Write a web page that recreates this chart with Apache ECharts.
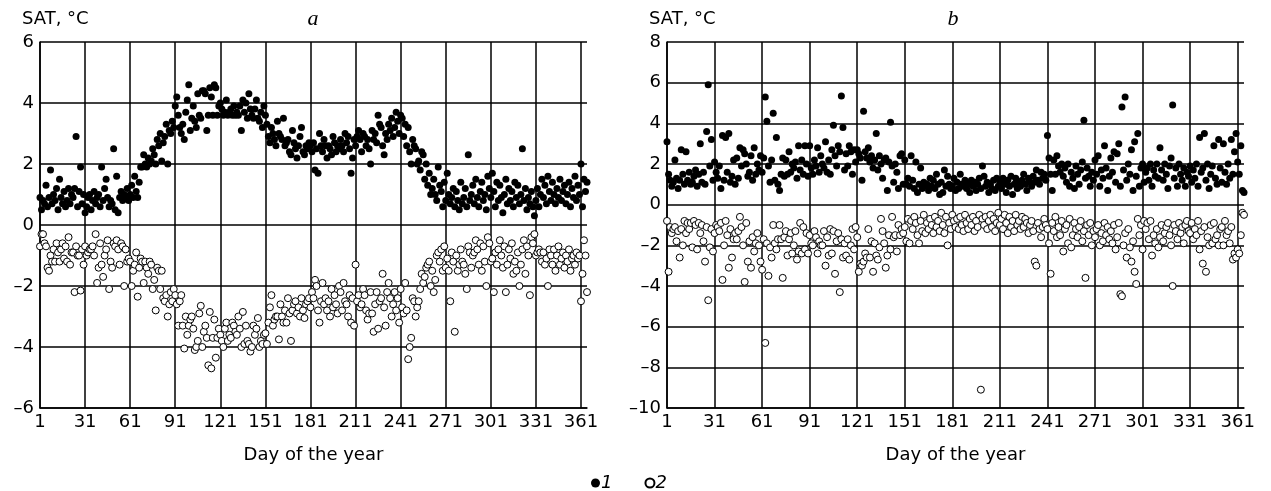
<!DOCTYPE html>
<html>
<head>
<meta charset="utf-8">
<script src="https://cdn.jsdelivr.net/npm/echarts@6/dist/echarts.min.js"></script>
<style>html,body{margin:0;padding:0;background:#fff}#c{width:1271px;height:491px}</style>
</head>
<body>
<div id="c"></div>
<script>
// Panel a — series 1 (filled) and 2 (open), one value per day (day 1..365)
const a1 = [
0.9,0.5,0.8,0.7,1.3,0.6,0.9,1.8,0.7,1.0,
0.8,1.2,0.5,1.5,0.9,0.7,1.1,0.6,0.8,1.2,
0.7,1.0,0.9,1.2,2.9,0.6,1.1,1.9,0.7,1.0,
0.4,0.6,0.9,1.0,0.5,0.8,1.1,0.7,0.9,1.0,
0.6,1.9,0.8,1.2,1.5,0.9,0.6,0.8,0.7,2.5,
0.5,1.6,0.4,0.9,1.1,0.8,1.0,0.9,1.2,0.8,
1.0,1.3,0.9,1.6,1.1,0.9,1.4,1.9,1.9,2.3,
2.0,1.9,2.2,2.0,2.1,2.5,2.3,2.0,2.8,2.6,
3.0,2.1,2.7,2.9,3.3,2.0,3.1,3.0,3.4,3.2,
3.9,4.2,3.6,3.2,3.0,3.3,2.8,3.7,4.1,4.6,
3.1,3.5,3.9,3.4,3.2,4.3,3.6,3.5,4.4,4.4,
4.3,3.1,3.6,4.5,4.2,3.6,4.6,4.5,3.6,3.9,
4.0,3.8,3.6,3.7,4.1,3.6,3.7,3.8,3.6,3.9,
3.6,3.7,3.6,3.9,3.1,4.1,3.7,4.0,3.5,4.3,
3.8,3.6,3.5,3.8,4.1,3.5,3.4,3.7,3.2,3.9,
3.6,3.3,2.9,2.7,3.2,3.0,2.8,2.6,3.4,3.0,
2.9,2.8,3.5,2.6,2.7,2.8,2.4,2.3,3.1,2.7,
2.5,2.2,2.6,2.9,3.2,2.4,2.3,2.6,2.5,2.7,
2.6,2.4,2.7,1.8,2.5,1.7,3.0,2.6,2.4,2.8,
2.6,2.2,2.6,2.5,2.3,2.9,2.7,2.4,2.6,2.5,
2.8,2.6,2.4,3.0,2.7,2.9,2.5,1.7,2.2,2.8,
2.6,2.9,3.1,2.8,2.4,3.0,2.9,2.6,2.8,2.5,
2.0,3.1,2.8,3.0,2.7,3.6,3.3,3.2,2.6,2.3,
3.0,2.8,3.3,3.1,3.5,2.9,3.2,3.7,3.4,3.0,
3.6,3.5,2.9,3.3,2.6,3.2,2.4,2.0,2.8,2.6,
2.5,2.0,2.1,1.8,2.4,2.3,1.5,2.0,1.3,1.7,
1.0,1.2,1.5,1.0,0.8,1.9,1.3,1.1,0.6,1.4,
0.8,1.7,1.0,0.7,0.9,1.2,0.6,1.1,0.8,0.5,
1.4,0.7,0.9,1.2,0.6,2.3,0.8,1.0,1.3,0.7,
1.5,0.9,0.6,1.1,1.4,0.8,1.0,0.5,1.6,1.2,
0.9,1.7,1.1,0.6,1.4,0.8,1.3,0.9,0.4,1.0,
1.5,0.7,1.2,0.8,1.1,0.6,1.4,0.9,1.3,0.7,
1.0,2.5,0.8,1.2,0.5,0.9,0.7,1.1,0.6,0.3,
0.8,1.2,0.6,1.0,1.5,0.9,1.3,0.7,1.6,1.1,
0.8,1.4,1.0,0.7,1.2,0.9,1.5,0.8,1.1,1.3,
0.7,1.0,1.4,0.6,1.2,0.9,1.6,0.8,1.3,1.0,
2.0,0.6,1.5,1.1,1.4
];
const a2 = [
-0.7,-0.3,-0.3,-0.6,-0.7,-1.4,-1.5,-1.0,-1.2,-0.8,
-1.2,-0.6,-0.9,-1.2,-0.8,-0.6,-1.1,-0.7,-1.2,-0.4,
-1.3,-0.9,-0.9,-2.2,-0.7,-1.0,-1.0,-2.15,-0.8,-1.3,
-0.7,-1.0,-0.9,-0.8,-0.8,-0.7,-1.0,-0.3,-1.9,-1.4,
-0.6,-1.3,-1.7,-1.0,-0.8,-0.5,-2.1,-1.2,-1.4,-0.6,
-0.7,-0.5,-0.8,-1.3,-0.6,-0.7,-2.0,-0.8,-1.2,-1.1,
-1.2,-2.0,-1.5,-1.3,-0.9,-2.35,-1.4,-1.1,-1.2,-1.9,
-1.2,-1.4,-1.6,-1.2,-1.3,-2.1,-1.8,-2.8,-1.4,-1.5,
-2.1,-1.5,-2.4,-2.5,-2.3,-3.0,-2.6,-2.2,-2.5,-2.1,
-2.3,-2.6,-3.3,-2.5,-2.3,-3.3,-4.05,-3.0,-3.6,-3.3,
-3.1,-3.0,-3.4,-4.1,-4.0,-3.8,-2.9,-2.65,-4.0,-3.5,
-3.3,-3.7,-4.6,-2.85,-4.7,-3.7,-3.1,-4.35,-3.7,-3.4,
-3.6,-3.8,-4.0,-3.4,-3.2,-3.8,-3.6,-3.7,-3.2,-3.3,
-3.5,-3.6,-3.0,-3.4,-4.0,-2.85,-3.9,-3.3,-3.8,-3.9,
-4.15,-4.0,-3.3,-3.6,-3.4,-3.05,-4.0,-3.8,-3.9,-3.6,
-3.55,-3.9,-3.2,-2.7,-2.3,-3.3,-3.1,-3.0,-3.0,-3.75,
-2.6,-3.0,-3.2,-2.8,-3.2,-2.4,-2.9,-3.8,-2.8,-2.6,
-2.5,-2.9,-2.7,-3.0,-2.4,-2.8,-3.05,-2.6,-2.5,-2.4,
-2.7,-2.2,-2.4,-1.8,-2.0,-2.8,-3.2,-2.5,-1.9,-2.6,
-2.4,-2.8,-2.5,-3.0,-2.1,-2.7,-2.3,-2.6,-2.9,-2.0,
-2.2,-2.8,-1.9,-2.5,-2.6,-3.0,-2.3,-3.2,-2.4,-3.3,
-1.3,-2.5,-2.3,-2.7,-2.6,-2.1,-2.3,-2.8,-3.1,-2.9,
-2.2,-2.9,-3.5,-2.6,-2.2,-3.4,-2.5,-2.4,-1.6,-2.7,
-3.3,-2.2,-1.9,-2.4,-3.0,-2.6,-2.2,-2.8,-2.4,-3.2,
-2.1,-2.7,-2.9,-1.9,-2.8,-4.4,-4.0,-3.7,-2.4,-2.5,
-3.0,-2.7,-2.5,-2.1,-1.6,-1.9,-1.7,-1.4,-1.3,-1.2,
-2.0,-1.5,-2.2,-1.8,-1.0,-0.9,-1.2,-0.8,-1.5,-0.7,
-1.4,-1.1,-1.5,-2.5,-0.9,-1.2,-3.5,-1.0,-1.5,-1.3,
-0.8,-1.2,-1.3,-1.6,-2.1,-0.7,-0.9,-1.4,-1.0,-0.9,
-0.5,-0.8,-1.3,-0.6,-1.5,-0.7,-1.2,-2.0,-0.4,-0.6,
-1.2,-1.1,-2.2,-0.9,-1.3,-0.8,-0.5,-1.0,-1.4,-0.7,
-2.2,-1.3,-0.8,-1.1,-0.6,-1.6,-1.2,-1.5,-0.9,-2.0,
-1.3,-0.8,-0.5,-1.6,-0.7,-1.0,-2.3,-0.4,-0.6,-0.3,
-1.0,-0.9,-0.8,-0.9,-1.2,-0.9,-1.3,-1.1,-2.0,-0.8,
-1.0,-1.3,-0.8,-1.5,-1.0,-0.7,-1.3,-1.1,-0.9,-1.4,
-1.0,-1.2,-0.8,-1.5,-1.1,-1.0,-1.3,-0.9,-1.1,-1.0,
-2.5,-1.6,-0.5,-1.0,-2.2
];
// Panel b
const b1 = [
3.1,1.5,1.2,0.9,1.1,2.2,1.3,0.8,1.2,2.7,
1.5,1.0,2.6,1.2,1.6,1.0,1.1,1.4,1.7,0.9,
1.5,3.0,1.1,1.6,1.0,3.6,5.9,1.9,3.2,1.2,
2.1,1.6,1.3,1.9,0.8,3.4,1.2,3.3,1.6,3.5,
1.1,1.4,2.2,1.0,2.3,1.3,2.8,1.9,2.7,2.5,
2.0,1.4,1.6,2.4,1.2,2.8,1.5,2.0,1.7,2.4,
1.6,2.3,5.3,4.1,1.9,1.1,2.2,4.5,1.2,3.3,
1.0,0.7,1.5,2.3,1.4,2.2,1.5,2.6,1.6,2.0,
1.8,2.1,1.3,2.9,1.7,2.2,1.5,2.9,2.0,1.4,
2.9,1.8,1.5,2.2,1.9,2.8,1.6,2.4,2.0,1.8,
3.1,1.6,2.2,1.5,2.7,3.9,2.4,1.9,2.9,2.6,
5.35,3.8,1.7,2.5,1.9,2.9,2.6,1.5,2.7,2.1,
2.7,2.5,2.3,1.2,4.6,2.6,2.3,2.8,2.1,2.4,
1.8,2.2,3.5,1.7,2.4,2.0,1.3,2.2,2.3,0.7,
2.1,4.05,1.9,1.1,2.0,1.6,0.8,2.4,2.5,1.0,
2.2,1.0,1.3,0.9,2.4,1.2,0.8,2.1,0.6,1.0,
1.8,0.8,1.1,0.9,1.0,0.7,1.3,0.9,1.2,0.8,
1.5,1.0,0.5,1.1,0.6,1.7,0.9,1.4,1.0,0.8,
0.9,1.3,0.7,1.1,0.8,1.5,1.0,0.9,1.2,0.8,
1.0,0.6,1.2,0.9,1.1,0.7,1.0,1.3,0.8,1.9,
1.4,0.9,1.1,0.6,1.0,0.8,1.2,0.7,1.3,0.9,
1.1,0.8,1.3,1.0,0.6,1.2,0.9,1.4,0.5,1.0,
1.3,0.8,1.1,0.9,1.2,1.5,1.0,0.7,1.3,1.1,
0.9,1.4,1.1,1.7,1.2,1.0,1.6,1.3,1.5,1.2,
3.4,2.3,1.5,0.7,2.2,1.5,2.4,1.9,1.6,2.0,
1.4,1.8,1.1,2.0,0.9,1.6,1.3,0.8,1.9,1.5,
1.0,1.7,2.1,4.15,1.3,1.8,1.4,0.9,1.6,1.2,
2.2,1.5,2.4,0.9,1.7,1.3,2.9,1.8,0.7,1.4,
2.3,1.6,2.6,1.1,2.5,3.0,0.9,4.8,1.7,5.3,
1.2,2.0,1.5,2.7,0.7,3.1,1.4,3.5,0.9,1.8,
2.0,1.1,1.6,1.8,1.2,2.0,0.9,1.7,1.4,2.0,
1.3,2.8,1.7,1.2,2.0,1.5,0.8,1.9,2.3,4.9,
1.3,1.8,0.9,2.0,1.5,1.2,1.8,0.9,1.6,1.4,
1.9,1.1,1.7,1.3,2.0,0.9,3.3,1.6,1.8,3.5,
1.2,2.0,0.8,1.5,1.9,2.9,1.3,1.0,3.2,1.8,
1.1,3.0,1.6,1.0,2.0,1.3,3.2,1.5,2.6,3.5,
2.1,1.5,2.9,0.7,0.6
];
const b2 = [
-0.8,-3.3,-1.1,-1.4,-1.2,-1.1,-1.8,-1.3,-2.6,-1.2,
-2.0,-0.8,-1.4,-0.9,-1.2,-0.9,-2.1,-0.8,-1.0,-2.2,
-0.9,-1.4,-1.0,-1.8,-2.8,-1.1,-4.7,-2.1,-1.2,-2.3,
-1.4,-1.0,-1.1,-1.3,-0.9,-3.7,-2.0,-0.8,-1.5,-3.1,
-1.2,-2.6,-1.7,-1.4,-1.7,-1.3,-0.6,-1.1,-2.0,-3.8,
-0.9,-2.8,-1.8,-3.1,-1.6,-2.3,-1.9,-1.4,-2.0,-2.8,
-3.2,-1.7,-6.8,-1.9,-3.5,-2.1,-2.6,-1.0,-1.9,-2.2,
-1.7,-1.0,-1.7,-3.6,-1.6,-1.3,-2.5,-1.7,-1.4,-2.4,
-2.0,-1.3,-2.7,-2.3,-0.9,-2.4,-1.1,-2.2,-1.4,-2.4,
-1.5,-1.9,-2.0,-1.3,-1.6,-2.4,-1.8,-2.0,-2.0,-1.3,
-3.0,-1.6,-2.5,-1.2,-2.4,-1.3,-3.4,-1.8,-1.4,-4.3,
-1.7,-2.6,-1.9,-2.5,-1.7,-2.7,-2.0,-1.2,-2.2,-1.1,
-1.6,-3.3,-2.9,-3.0,-2.8,-2.4,-2.6,-1.2,-2.6,-1.8,
-3.3,-1.9,-2.5,-2.7,-2.1,-0.7,-1.3,-1.9,-3.1,-2.5,
-1.5,-2.2,-0.6,-1.6,-1.5,-2.3,-1.0,-1.5,-1.2,-1.4,
-1.1,-1.8,-0.7,-1.9,-0.8,-1.2,-0.6,-0.9,-1.5,-1.9,
-0.8,-1.3,-0.5,-1.4,-0.9,-1.2,-0.7,-1.0,-1.4,-0.6,
-1.1,-0.8,-1.3,-0.4,-1.0,-1.4,-0.6,-2.0,-0.9,-1.2,
-0.5,-0.8,-1.1,-0.7,-1.2,-0.6,-1.0,-1.3,-0.5,-0.9,
-1.2,-0.7,-1.0,-0.6,-1.3,-0.8,-1.1,-0.5,-9.1,-0.7,
-1.0,-0.6,-1.2,-0.8,-0.5,-1.1,-0.7,-1.3,-0.9,-0.4,
-1.0,-0.7,-1.2,-0.5,-0.9,-1.4,-0.6,-1.1,-0.8,-1.3,
-0.5,-1.0,-0.8,-1.2,-0.6,-1.1,-0.7,-0.9,-1.4,-1.0,
-0.8,-1.3,-2.8,-3.0,-0.9,-1.2,-1.6,-1.1,-0.7,-1.0,
-1.2,-1.9,-3.4,-0.9,-1.3,-0.6,-1.6,-1.1,-1.5,-0.8,
-2.3,-1.2,-1.0,-1.9,-0.7,-2.1,-1.5,-0.9,-1.2,-1.6,
-1.1,-0.8,-1.8,-1.3,-3.6,-1.0,-1.5,-0.9,-2.0,-1.3,
-1.6,-1.2,-1.0,-2.0,-1.4,-1.8,-0.9,-1.5,-1.1,-1.7,
-1.3,-1.9,-1.0,-2.2,-1.6,-0.9,-4.4,-4.5,-2.0,-1.4,
-2.6,-1.2,-2.1,-2.8,-1.8,-3.3,-3.9,-0.7,-1.5,-1.0,
-2.2,-0.8,-1.2,-0.9,-1.7,-0.8,-2.5,-1.5,-1.9,-1.2,
-2.1,-1.6,-1.0,-1.8,-1.4,-1.1,-0.9,-1.5,-2.0,-4.0,
-1.0,-1.3,-1.7,-0.9,-1.4,-1.1,-1.9,-1.0,-0.8,-1.3,
-1.4,-0.9,-1.7,-1.2,-1.5,-0.8,-2.2,-1.3,-2.9,-1.1,
-3.3,-1.6,-2.0,-1.0,-1.9,-0.9,-1.7,-1.5,-2.0,-1.2,
-1.1,-2.0,-0.8,-1.5,-1.3,-1.9,-1.1,-2.7,-2.4,-2.6,
-2.2,-2.4,-1.5,-0.4,-0.5
];
const seriesNames = ['1', '2'];
const panelLetters = ['a', 'b'];
const yTitle = 'SAT, °C';
const xTitle = 'Day of the year';

const FONT = '"DejaVu Sans", sans-serif';
const toPts = arr => arr.map((v, i) => [i, v]); // x = day - 1

function xAxisCfg(idx) {
  return {
    type: 'value', gridIndex: idx, min: 0, max: 364, interval: 30,
    name: xTitle, nameLocation: 'middle', nameGap: 38,
    nameTextStyle: {fontFamily: FONT, fontSize: 18, color: '#000'},
    axisLine: {show: true, onZero: false, lineStyle: {color: '#000', width: 1.5}},
    axisTick: {show: false},
    axisLabel: {fontFamily: FONT, fontSize: 18, color: '#000', margin: 5, showMaxLabel: false,
      formatter: v => String(v + 1)},
    splitLine: {show: true, showMaxLine: false, lineStyle: {color: '#000', width: 1.5}}
  };
}
function yAxisCfg(idx, min, max) {
  return {
    type: 'value', gridIndex: idx, min: min, max: max, interval: 2,
    axisLine: {show: true, onZero: false, lineStyle: {color: '#000', width: 1.5}},
    axisTick: {show: false},
    axisLabel: {fontFamily: FONT, fontSize: 18, color: '#000', margin: 6,
      formatter: v => String(v).replace('-', '\u2013')},
    splitLine: {show: true, lineStyle: {color: '#000', width: 1.5}}
  };
}
function filled(name, data, idx) {
  return {type: 'scatter', name: name, xAxisIndex: idx, yAxisIndex: idx, data: toPts(data),
    symbol: 'circle', symbolSize: 7, itemStyle: {color: '#000', opacity: 1}, z: 3};
}
function open(name, data, idx) {
  return {type: 'scatter', name: name, xAxisIndex: idx, yAxisIndex: idx, data: toPts(data),
    symbol: 'circle', symbolSize: 7,
    itemStyle: {color: '#fff', borderColor: '#000', borderWidth: 1, opacity: 1}, z: 2};
}

const chart = echarts.init(document.getElementById('c'), null, {renderer: 'canvas'});
chart.setOption({
  animation: false,
  backgroundColor: '#fff',
  grid: [
    {left: 40, right: 684, top: 42, bottom: 83},
    {left: 667, right: 27, top: 42, bottom: 83}
  ],
  xAxis: [xAxisCfg(0), xAxisCfg(1)],
  yAxis: [yAxisCfg(0, -6, 6), yAxisCfg(1, -10, 8)],
  legend: {
    data: seriesNames, left: 586, top: 469, itemGap: 32, itemWidth: 9, itemHeight: 9,
    icon: 'circle', selectedMode: false,
    textStyle: {fontFamily: FONT, fontSize: 18, fontStyle: 'italic', color: '#000', padding: [0, 0, 0, -4]}
  },
  graphic: [
    {type: 'text', x: 22, y: 10, style: {text: yTitle, font: '18px ' + FONT, fill: '#000'}},
    {type: 'text', x: 649, y: 10, style: {text: yTitle, font: '18px ' + FONT, fill: '#000'}},
    {type: 'text', x: 313, y: 8, style: {text: panelLetters[0], font: 'italic 22px "Liberation Serif", serif', fill: '#000', align: 'center', textAlign: 'center'}},
    {type: 'text', x: 953, y: 8, style: {text: panelLetters[1], font: 'italic 22px "Liberation Serif", serif', fill: '#000', align: 'center', textAlign: 'center'}}
  ],
  series: [
    open(seriesNames[1], a2, 0),
    filled(seriesNames[0], a1, 0),
    open(seriesNames[1], b2, 1),
    filled(seriesNames[0], b1, 1)
  ]
});
</script>
</body>
</html>
